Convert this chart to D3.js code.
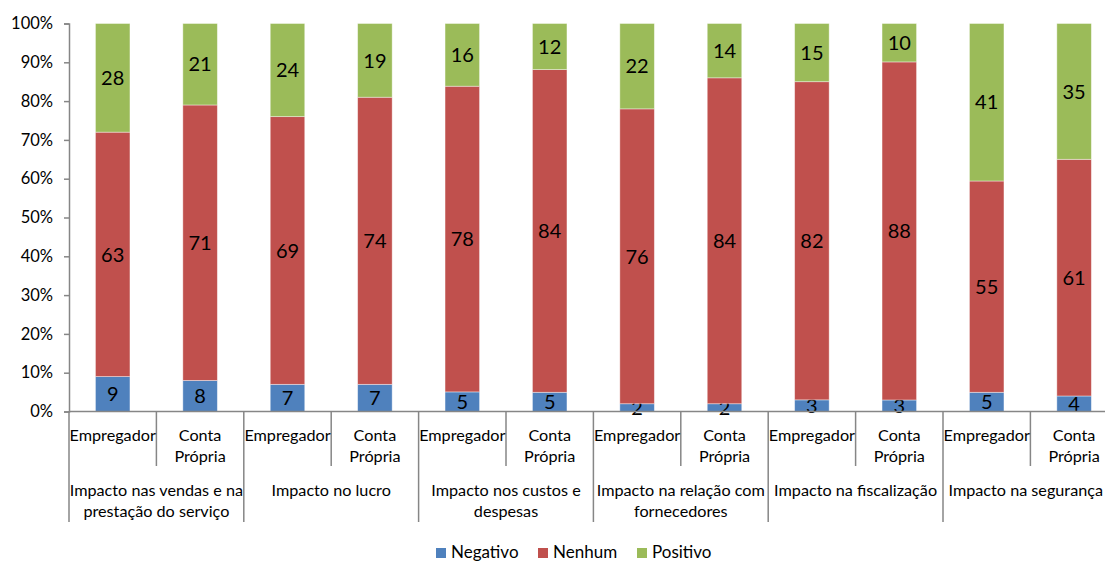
<!DOCTYPE html>
<html>
<head>
<meta charset="utf-8">
<script src="https://cdn.jsdelivr.net/npm/d3@7"></script>
<style>
  html, body { margin: 0; padding: 0; background: #fff; }
  svg { display: block; font-family: Lato, "Open Sans", sans-serif; }
</style>
</head>
<body>
<svg id="chart" width="1105" height="563"></svg>
<script>
// Survey answers by group (percent of respondents)
const groups = [
  ["Impacto nas vendas e na", "prestação do serviço"],
  ["Impacto no lucro"],
  ["Impacto nos custos e", "despesas"],
  ["Impacto na relação com", "fornecedores"],
  ["Impacto na fiscalização"],
  ["Impacto na segurança"]
];
const subgroups = [["Empregador"], ["Conta", "Própria"]];
const seriesNames = ["Negativo", "Nenhum", "Positivo"];
const seriesColors = ["#4F81BD", "#C0504D", "#9BBB59"];

// One entry per bar, in order: group 1 Empregador, group 1 Conta Própria, ...
const negativo = [9, 8, 7, 7, 5, 5, 2, 2, 3, 3, 5, 4];
const nenhum   = [63, 71, 69, 74, 78, 84, 76, 84, 82, 88, 55, 61];
const positivo = [28, 21, 24, 19, 16, 12, 22, 14, 15, 10, 41, 35];

const yTicks = [0, 0.1, 0.2, 0.3, 0.4, 0.5, 0.6, 0.7, 0.8, 0.9, 1];

const rows = negativo.map((v, i) => ({
  id: i,
  Negativo: v,
  Nenhum: nenhum[i],
  Positivo: positivo[i]
}));

const W = 1105;
const svg = d3.select("#chart");
const x0 = 69, step = 87.4;
const x = d3.scaleBand()
  .domain(rows.map(d => d.id))
  .range([x0, x0 + step * rows.length])
  .paddingInner(0.605)
  .paddingOuter(0.3025);
const y = d3.scaleLinear().domain([0, 1]).range([411.5, 23.5]);
const color = d3.scaleOrdinal().domain(seriesNames).range(seriesColors);

const stacked = d3.stack()
  .keys(seriesNames)
  .offset(d3.stackOffsetExpand)(rows);

// Bars
const layer = svg.append("g").selectAll("g")
  .data(stacked).join("g")
  .attr("fill", d => color(d.key));
layer.selectAll("rect")
  .data(d => d.map(p => ({ key: d.key, p })))
  .join("rect")
  .attr("x", d => x(d.p.data.id))
  .attr("width", x.bandwidth())
  .attr("y", d => y(d.p[1]))
  .attr("height", d => y(d.p[0]) - y(d.p[1]))
  .attr("stroke", "#ffffff")
  .attr("stroke-opacity", 0.5)
  .attr("stroke-width", 0.8);

// Value labels
layer.selectAll("text")
  .data(d => d.map(p => ({ key: d.key, p })))
  .join("text")
  .attr("x", d => x(d.p.data.id) + x.bandwidth() / 2)
  .attr("y", d => (y(d.p[0]) + y(d.p[1])) / 2)
  .attr("dy", "0.36em")
  .attr("text-anchor", "middle")
  .attr("fill", "#000")
  .style("font-size", "20px")
  .text(d => d.p.data[d.key]);

// Y axis
const yAxis = svg.append("g")
  .attr("transform", `translate(${x0},0)`)
  .call(d3.axisLeft(y).tickValues(yTicks).tickFormat(d3.format(".0%")).tickSizeOuter(0).tickSize(5));
yAxis.select(".domain").attr("stroke", "#868686").attr("stroke-width", 1.5);
yAxis.selectAll(".tick line").attr("stroke", "#868686").attr("stroke-width", 1.5);
yAxis.selectAll(".tick text")
  .attr("x", -16)
  .attr("fill", "#000")
  .style("font-size", "16.5px")
  .style("font-family", "Lato, sans-serif");

// Category axis baseline
const axisColor = "#868686";
svg.append("line")
  .attr("x1", x0).attr("x2", W)
  .attr("y1", y(0)).attr("y2", y(0))
  .attr("stroke", axisColor).attr("stroke-width", 1.5);

// Separators between bars (short) and between groups (long)
const bounds = d3.range(rows.length + 1).map(i => x0 + step * i);
svg.append("g").selectAll("line")
  .data(bounds)
  .join("line")
  .attr("x1", d => d).attr("x2", d => d)
  .attr("y1", y(0))
  .attr("y2", (d, i) => i % 2 === 0 ? 522 : 466)
  .attr("stroke", axisColor)
  .attr("stroke-width", 1.5);

// Sub-category labels
const sub = svg.append("g").style("font-size", "16.2px").attr("fill", "#000");
rows.forEach((r, i) => {
  const lines = subgroups[i % 2];
  const cx = x(r.id) + x.bandwidth() / 2;
  lines.forEach((t, k) => {
    sub.append("text")
      .attr("x", cx)
      .attr("y", 435 + k * 21)
      .attr("dy", "0.35em")
      .attr("text-anchor", "middle")
      .text(t);
  });
});

// Group labels (kept inside the drawing width)
const grp = svg.append("g").style("font-size", "16.2px").attr("fill", "#000");
groups.forEach((lines, g) => {
  const cx = x0 + step * (2 * g + 1);
  lines.forEach((t, k) => {
    const txt = grp.append("text")
      .attr("x", cx)
      .attr("y", 490 + k * 21)
      .attr("dy", "0.35em")
      .attr("text-anchor", "middle")
      .text(t);
    const half = txt.node().getComputedTextLength() / 2;
    if (cx + half > W - 2) txt.attr("x", W - 2 - half);
  });
});

// Legend
const legendX = [436, 538, 637];
const legend = svg.append("g").style("font-size", "17px");
seriesNames.forEach((name, i) => {
  legend.append("rect")
    .attr("x", legendX[i]).attr("y", 548)
    .attr("width", 10).attr("height", 10)
    .attr("fill", color(name));
  legend.append("text")
    .attr("x", legendX[i] + 15).attr("y", 552)
    .attr("dy", "0.35em")
    .attr("fill", "#000")
    .text(name);
});
</script>
</body>
</html>
